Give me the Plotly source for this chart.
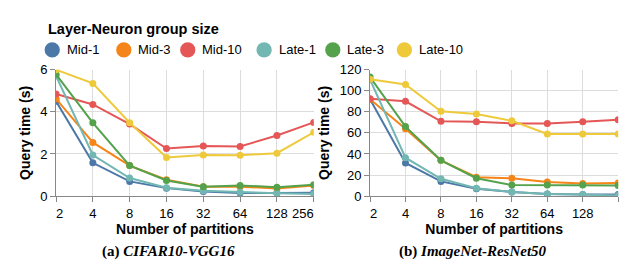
import plotly.graph_objects as go

W, H = 636, 265

partitions = ["2", "4", "8", "16", "32", "64", "128", "256"]
series_names = ["Mid-1", "Mid-3", "Mid-10", "Late-1", "Late-3", "Late-10"]
colors = ["#4c78a8", "#f58518", "#e45756", "#72b7b2", "#54a24b", "#eeca3b"]

# (a) CIFAR10-VGG16 query time (s)
cifar_mid1 = [4.50, 1.58, 0.70, 0.38, 0.22, 0.15, 0.15, 0.16]
cifar_mid3 = [4.62, 2.55, 1.45, 0.78, 0.45, 0.45, 0.36, 0.50]
cifar_mid10 = [4.85, 4.35, 3.42, 2.26, 2.38, 2.36, 2.88, 3.50]
cifar_late1 = [5.70, 1.95, 0.86, 0.40, 0.25, 0.18, 0.14, 0.10]
cifar_late3 = [5.78, 3.48, 1.45, 0.74, 0.45, 0.51, 0.42, 0.54]
cifar_late10 = [6.00, 5.35, 3.48, 1.83, 1.95, 1.94, 2.04, 3.03]

# (b) ImageNet-ResNet50 query time (s)
imnet_mid1 = [92.0, 31.5, 14.0, 7.0, 4.0, 2.0, 1.5, 1.5]
imnet_mid3 = [92.0, 64.0, 34.0, 18.0, 17.0, 13.5, 12.0, 12.5]
imnet_mid10 = [92.5, 90.0, 71.0, 70.5, 69.0, 69.0, 70.5, 72.5]
imnet_late1 = [110.5, 36.5, 16.5, 7.5, 4.0, 2.0, 1.5, 0.6]
imnet_late3 = [113.0, 66.0, 34.0, 17.0, 10.5, 10.5, 10.5, 10.0]
imnet_late10 = [111.0, 106.0, 80.5, 78.0, 71.5, 59.0, 59.0, 59.0]

NB = "\u00a0"
# first label flush-left, last label flush-right (as in the reference)
left_tick_labels = [NB * 2 + "2", "4", "8", "16", "32", "64", "128", "256" + NB * 6]
right_tick_labels = [NB * 2 + "2", "4", "8", "16", "32", "64", "128", ""]

cifar = [cifar_mid1, cifar_mid3, cifar_mid10, cifar_late1, cifar_late3, cifar_late10]
imnet = [imnet_mid1, imnet_mid3, imnet_mid10, imnet_late1, imnet_late3, imnet_late10]

FONT = "Liberation Sans, Arial, sans-serif"
SERIF = "Liberation Serif, DejaVu Serif, serif"

def px(x):
    return x / W

def py(y):
    return 1 - y / H

fig = go.Figure()

for name, color, vals in zip(series_names, colors, cifar):
    fig.add_trace(go.Scatter(x=partitions, y=vals, mode="lines+markers", name=name,
                             line=dict(color=color, width=2), marker=dict(color=color, size=7),
                             xaxis="x", yaxis="y", showlegend=False))
for name, color, vals in zip(series_names, colors, imnet):
    fig.add_trace(go.Scatter(x=partitions, y=vals, mode="lines+markers", name=name,
                             line=dict(color=color, width=2), marker=dict(color=color, size=7),
                             xaxis="x2", yaxis="y2", showlegend=False))

ydom = [py(192), py(58)]
axis_common = dict(showgrid=True, gridcolor="#dddddd", gridwidth=1,
                   showline=True, linecolor="#888888", linewidth=1,
                   ticks="outside", ticklen=5, tickcolor="#888888",
                   tickfont=dict(family=FONT, size=13, color="#000"),
                   zeroline=False)

fig.update_layout(
    width=W, height=H, margin=dict(l=0, r=0, t=0, b=0),
    paper_bgcolor="white", plot_bgcolor="white",
    font=dict(family=FONT, color="#000"),
    xaxis=dict(domain=[px(43), px(313)], type="category", range=[0, 7],
               tickvals=partitions, ticktext=left_tick_labels, anchor="y",
               title=dict(text="<b>Number of partitions</b>", font=dict(size=14, family=FONT), standoff=4),
               **axis_common),
    yaxis=dict(domain=ydom, range=[0, 6], tickvals=[0, 2, 4, 6], anchor="x",
               title=dict(text="<b>Query time (s)</b>", font=dict(size=14, family=FONT), standoff=6),
               **axis_common),
    xaxis2=dict(domain=[px(372), px(632)], type="category", range=[0, 7],
                tickvals=partitions, ticktext=right_tick_labels, anchor="y2",
                title=dict(text="<b>Number of partitions</b>", font=dict(size=14, family=FONT), standoff=4),
                **axis_common),
    yaxis2=dict(domain=ydom, range=[0, 120], tickvals=[0, 20, 40, 60, 80, 100, 120], anchor="x2",
                title=dict(text="<b>Query time (s)</b>", font=dict(size=14, family=FONT), standoff=6),
                **axis_common),
)

shapes = []
annotations = []

# Legend (custom)
annotations.append(dict(x=px(32), y=py(15), xref="paper", yref="paper", xanchor="left", yanchor="middle",
                        text="<b>Layer-Neuron group size</b>", showarrow=False,
                        font=dict(family=FONT, size=14.5, color="#000")))
legend_x = [39, 114, 181, 261, 333, 408]
r = 8
for name, color, cx in zip(series_names, colors, legend_x):
    cy = 37
    shapes.append(dict(type="circle", xref="paper", yref="paper",
                       x0=px(cx - r), x1=px(cx + r), y0=py(cy + r), y1=py(cy - r),
                       fillcolor=color, line=dict(width=0)))
    annotations.append(dict(x=px(cx + 13), y=py(cy), xref="paper", yref="paper",
                            xanchor="left", yanchor="middle", text=name, showarrow=False,
                            font=dict(family=FONT, size=13, color="#000")))

# Captions
annotations.append(dict(x=px(161), y=py(251), xref="paper", yref="paper", xanchor="center", yanchor="middle",
                        text="<b>(a) <i>CIFAR10-VGG16</i></b>", showarrow=False,
                        font=dict(family=SERIF, size=15, color="#000")))
annotations.append(dict(x=px(480), y=py(251), xref="paper", yref="paper", xanchor="center", yanchor="middle",
                        text="<b>(b) <i>ImageNet-ResNet50</i></b>", showarrow=False,
                        font=dict(family=SERIF, size=15, color="#000")))

fig.update_layout(shapes=shapes, annotations=annotations)

fig.write_html("out.html")
